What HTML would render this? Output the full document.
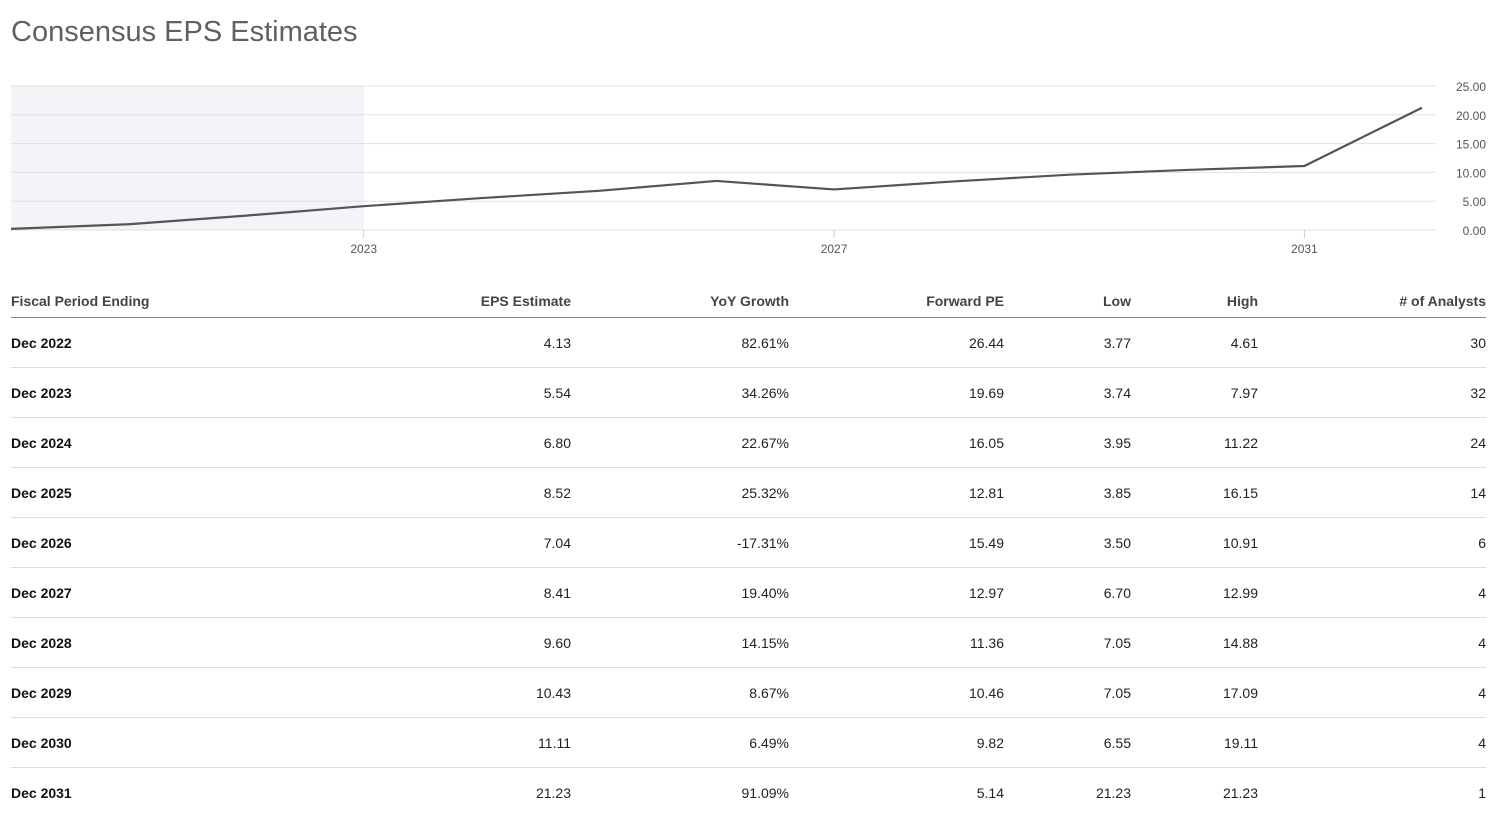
<!DOCTYPE html>
<html><head><meta charset="utf-8"><style>
body{margin:0;width:1507px;height:828px;background:#fff;font-family:"Liberation Sans",Arial,sans-serif;position:relative;overflow:hidden}
h1{position:absolute;left:11px;top:16px;margin:0;font-size:29px;font-weight:normal;color:#616161}
svg{position:absolute;left:0;top:0}
table{position:absolute;left:11px;top:284px;width:1475px;border-collapse:collapse;font-size:14px;color:#222}
th{font-weight:bold;color:#444;height:33px;text-align:right;border-bottom:1px solid #888;padding:0}
td{height:49px;border-bottom:1px solid #ddd;text-align:right;padding:0}
tr:last-child td{border-bottom:none}
th:first-child,td:first-child{text-align:left}
td:first-child{font-weight:bold;color:#111}
</style></head><body>
<h1>Consensus EPS Estimates</h1>
<svg id="chart" width="1507" height="270"></svg>
<table>
<colgroup><col style="width:290px"><col style="width:270px"><col style="width:218px"><col style="width:215px"><col style="width:127px"><col style="width:127px"><col style="width:228px"></colgroup>
<tr><th>Fiscal Period Ending</th><th>EPS Estimate</th><th>YoY Growth</th><th>Forward PE</th><th>Low</th><th>High</th><th># of Analysts</th></tr>
<tr><td>Dec 2022</td><td>4.13</td><td>82.61%</td><td>26.44</td><td>3.77</td><td>4.61</td><td>30</td></tr>
<tr><td>Dec 2023</td><td>5.54</td><td>34.26%</td><td>19.69</td><td>3.74</td><td>7.97</td><td>32</td></tr>
<tr><td>Dec 2024</td><td>6.80</td><td>22.67%</td><td>16.05</td><td>3.95</td><td>11.22</td><td>24</td></tr>
<tr><td>Dec 2025</td><td>8.52</td><td>25.32%</td><td>12.81</td><td>3.85</td><td>16.15</td><td>14</td></tr>
<tr><td>Dec 2026</td><td>7.04</td><td>-17.31%</td><td>15.49</td><td>3.50</td><td>10.91</td><td>6</td></tr>
<tr><td>Dec 2027</td><td>8.41</td><td>19.40%</td><td>12.97</td><td>6.70</td><td>12.99</td><td>4</td></tr>
<tr><td>Dec 2028</td><td>9.60</td><td>14.15%</td><td>11.36</td><td>7.05</td><td>14.88</td><td>4</td></tr>
<tr><td>Dec 2029</td><td>10.43</td><td>8.67%</td><td>10.46</td><td>7.05</td><td>17.09</td><td>4</td></tr>
<tr><td>Dec 2030</td><td>11.11</td><td>6.49%</td><td>9.82</td><td>6.55</td><td>19.11</td><td>4</td></tr>
<tr><td>Dec 2031</td><td>21.23</td><td>91.09%</td><td>5.14</td><td>21.23</td><td>21.23</td><td>1</td></tr>
</table>
<script>
const years=[2020,2021,2022,2023,2024,2025,2026,2027,2028,2029,2030,2031,2032];
const eps=[0.2,1.0,2.5,4.13,5.54,6.80,8.52,7.04,8.41,9.60,10.43,11.11,21.23];
const yTicks=[0,5,10,15,20,25];
const xTicks=[2023,2027,2031];
const NS="http://www.w3.org/2000/svg";
const svg=document.getElementById('chart');
const x=v=>11+(v-2020)*117.58;
const y=v=>230-v*5.76;
function mk(t,a){const e=document.createElementNS(NS,t);for(const k in a)e.setAttribute(k,a[k]);svg.appendChild(e);return e;}
const sh=mk('rect',{x:11,y:y(25),width:x(2023)-11,height:y(0)-y(25),fill:'#f3f4f8'});


yTicks.forEach(t=>{
 const g=mk('line',{x1:11,x2:1436,y1:y(t),y2:y(t),stroke:'#e0e0e0','stroke-width':1});
 
 
 const l=mk('text',{x:1486,y:y(t)+5,'text-anchor':'end','font-size':12,fill:'#555'});
 l.textContent=t.toFixed(2);
 
 
});
xTicks.forEach(t=>{
 const tk=mk('line',{x1:x(t),x2:x(t),y1:230,y2:238,stroke:'#ccc'});
 
 
 const l=mk('text',{x:x(t),y:253,'text-anchor':'middle','font-size':12,fill:'#555'});
 l.textContent=t;
 
 
});
const p=mk('polyline',{points:years.map((yr,i)=>x(yr)+','+y(eps[i])).join(' '),fill:'none',stroke:'#555','stroke-width':2.2,'stroke-linejoin':'round'});


</script>
</body></html>
